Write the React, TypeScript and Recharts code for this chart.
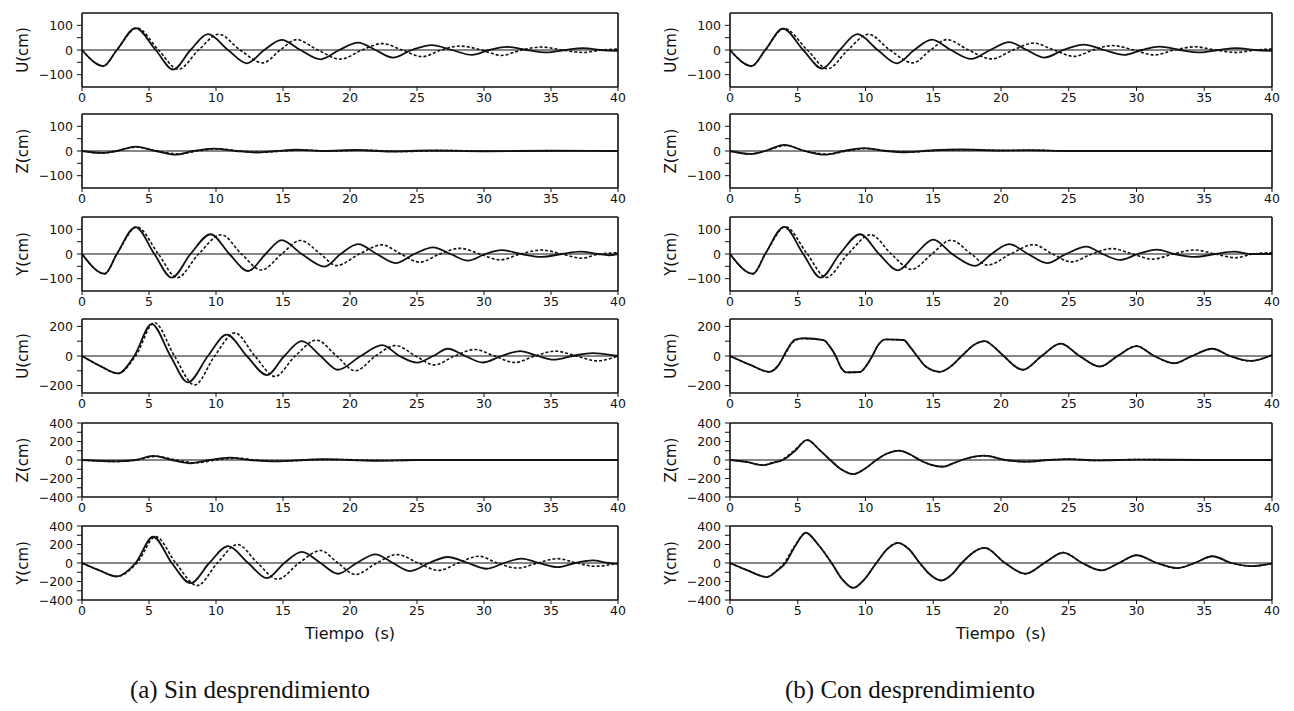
import React from 'react';
import { LineChart, Line, XAxis, YAxis, ReferenceLine } from 'recharts';

type Pt = [number, number];

// time axis (s)
const timeTicks = [0, 5, 10, 15, 20, 25, 30, 35, 40];
const ticks150 = [-100, -50, 0, 50, 100];
const ticks250 = [-200, -100, 0, 100, 200];
const ticks400 = [-400, -300, -200, -100, 0, 100, 200, 300, 400];

// (a) Sin desprendimiento -- [t, value], solid and dashed
const aU1Solid: Pt[] = [[0,0],[1.6,-65],[2.6,0],[4.0,89],[5.5,0],[6.8,-79],[8.1,0],[9.4,64],[10.9,0],[12.3,-54],[13.6,0],[14.9,41],[16.3,0],[17.8,-38],[19.2,0],[20.6,30],[21.9,0],[23.2,-31],[24.6,0],[26.1,20],[27.6,0],[29.1,-20],[30.4,0],[31.7,13],[33.2,0],[34.7,-10],[36.0,0],[37.4,8],[38.7,0],[40,-3]];
const aU1Dashed: Pt[] = [[0,0],[1.6,-65],[2.6,0],[4.1,89],[5.7,0],[7.2,-78],[8.7,0],[10.2,64],[11.8,0],[13.5,-52],[14.8,0],[16.0,42],[17.6,0],[19.3,-37],[20.9,0],[22.4,26],[23.9,0],[25.4,-27],[26.8,0],[28.2,16],[29.8,0],[31.3,-22],[32.8,0],[34.3,12],[35.8,0],[37.4,-10],[38.8,0],[40,4]];

const aZ2Solid: Pt[] = [[0,0],[1.5,-8],[2.6,0],[4.0,18],[5.5,0],[7.0,-15],[8.3,0],[9.8,10],[11.5,0],[13.0,-6],[14.5,0],[16,5],[18,0],[20.5,4],[23,-2],[26,2],[30,-1],[35,1],[40,0]];
const aZ2Dashed: Pt[] = [[0,0],[1.5,-8],[2.6,0],[4.1,16],[5.6,0],[7.2,-12],[8.6,0],[10.2,9],[11.8,0],[13.5,-5],[15,0],[16.5,4],[18.5,0],[21,3],[24,-2],[27,2],[31,-1],[36,1],[40,0]];

const aY3Solid: Pt[] = [[0,0],[1.7,-80],[2.6,0],[4.0,109],[5.4,0],[6.7,-96],[8.1,0],[9.6,80],[11.0,0],[12.4,-69],[13.7,0],[14.9,56],[16.4,0],[18.1,-51],[19.3,0],[20.6,40],[22.0,0],[23.4,-37],[24.8,0],[26.2,27],[27.5,0],[28.8,-27],[30.1,0],[31.3,16],[32.8,0],[34.3,-12],[35.8,0],[37.2,10],[38.5,0],[39.3,-5],[40,0]];
const aY3Dashed: Pt[] = [[0,0],[1.7,-80],[2.6,0],[4.1,109],[5.7,0],[7.1,-96],[8.7,0],[10.4,78],[11.9,0],[13.4,-65],[14.9,0],[16.3,55],[17.8,0],[19.0,-47],[20.7,0],[22.4,37],[23.8,0],[25.2,-33],[26.7,0],[28.2,23],[29.7,0],[31.2,-24],[32.7,0],[34.3,16],[35.8,0],[37.3,-17],[38.6,0],[40,5]];

const aU4Solid: Pt[] = [[0,0],[1.3,-65],[2.7,-118],[3.9,0],[5.2,216],[6.6,0],[7.9,-178],[9.4,0],[10.8,144],[12.3,0],[13.8,-129],[15.1,0],[16.4,100],[17.8,0],[19.1,-93],[20.8,0],[22.4,73],[23.7,0],[25.0,-45],[26.2,0],[27.3,49],[28.6,0],[29.9,-44],[31.3,0],[32.7,33],[34.0,0],[35.2,-25],[36.6,0],[38.1,20],[40,0]];
const aU4Dashed: Pt[] = [[0,0],[1.3,-65],[2.7,-118],[4.0,0],[5.4,225],[6.9,0],[8.4,-196],[9.9,0],[11.4,156],[12.9,0],[14.4,-138],[15.9,0],[17.5,107],[19.0,0],[20.4,-100],[21.9,0],[23.4,71],[24.9,0],[26.3,-60],[27.8,0],[29.3,44],[30.8,0],[32.3,-44],[33.8,0],[35.3,33],[36.9,0],[38.4,-33],[40,0]];

const aZ5Solid: Pt[] = [[0,0],[2.5,-15],[4.0,0],[5.3,45],[6.7,0],[8.1,-35],[9.5,0],[11.0,25],[12.5,0],[14.5,-15],[16.5,0],[18,8],[20,0],[22,-8],[25,0],[30,0],[40,0]];
const aZ5Dashed: Pt[] = [[0,0],[2.5,-15],[4.1,0],[5.5,40],[7.0,0],[8.5,-30],[10.0,0],[11.5,20],[13.0,0],[15.0,-12],[17.0,0],[19,6],[21,0],[23,-6],[26,0],[30,0],[40,0]];

const aY6Solid: Pt[] = [[0,0],[1.3,-80],[2.6,-145],[4.0,0],[5.3,284],[6.7,0],[8.1,-218],[9.5,0],[10.9,182],[12.4,0],[13.8,-164],[15.1,0],[16.4,120],[17.8,0],[19.1,-116],[20.5,0],[21.9,94],[23.2,0],[24.5,-87],[25.9,0],[27.3,65],[28.8,0],[30.2,-62],[31.5,0],[32.8,47],[34.1,0],[35.5,-44],[36.8,0],[38.1,29],[39.3,0],[40,-10]];
const aY6Dashed: Pt[] = [[0,0],[1.3,-80],[2.6,-145],[4.1,0],[5.5,285],[7.0,0],[8.6,-244],[10.1,0],[11.6,200],[13.1,0],[14.6,-175],[16.2,0],[17.8,135],[19.1,0],[20.4,-124],[22.0,0],[23.5,91],[25.1,0],[26.6,-80],[28.1,0],[29.6,73],[31.0,0],[32.5,-55],[34.0,0],[35.5,47],[36.9,0],[38.3,-36],[40,0]];

// (b) Con desprendimiento
const bU1Solid: Pt[] = [[0,0],[1.6,-65],[2.6,0],[3.9,87],[5.4,0],[6.8,-75],[8.1,0],[9.4,64],[10.9,0],[12.3,-54],[13.6,0],[14.9,42],[16.3,0],[17.8,-36],[19.2,0],[20.6,32],[21.9,0],[23.2,-31],[24.6,0],[26.1,22],[27.6,0],[29.1,-20],[30.4,0],[31.7,14],[33.2,0],[34.7,-10],[36.0,0],[37.4,8],[38.7,0],[40,-3]];
const bU1Dashed: Pt[] = [[0,0],[1.6,-65],[2.6,0],[4.0,87],[5.7,0],[7.2,-76],[8.7,0],[10.2,64],[11.8,0],[13.5,-52],[14.8,0],[16.0,42],[17.6,0],[19.3,-36],[20.9,0],[22.4,28],[23.9,0],[25.4,-26],[26.8,0],[28.2,18],[29.8,0],[31.3,-20],[32.8,0],[34.3,13],[35.8,0],[37.4,-10],[38.8,0],[40,4]];

const bZ2Solid: Pt[] = [[0,0],[1.5,-12],[2.6,0],[4.0,25],[5.5,0],[7.0,-15],[8.4,0],[9.9,12],[11.5,0],[13.0,-5],[15,3],[17,6],[20,2],[22,3],[25,0],[30,0],[40,0]];
const bZ2Dashed: Pt[] = [[0,0],[1.5,-12],[2.6,0],[4.1,22],[5.6,0],[7.2,-13],[8.6,0],[10.1,10],[11.7,0],[13.3,-4],[15.5,3],[17.5,5],[20,2],[22.5,3],[25,0],[30,0],[40,0]];

const bY3Solid: Pt[] = [[0,0],[1.7,-80],[2.6,0],[4.0,110],[5.4,0],[6.7,-96],[8.1,0],[9.6,80],[11.0,0],[12.4,-66],[13.7,0],[15.0,58],[16.4,0],[18.1,-48],[19.3,0],[20.6,40],[22.0,0],[23.4,-37],[24.8,0],[26.3,30],[27.5,0],[28.8,-24],[30.1,0],[31.5,18],[32.8,0],[34.3,-12],[35.8,0],[37.2,10],[38.5,0],[40,0]];
const bY3Dashed: Pt[] = [[0,0],[1.7,-80],[2.6,0],[4.1,110],[5.7,0],[7.1,-95],[8.7,0],[10.4,78],[11.9,0],[13.4,-62],[14.9,0],[16.3,56],[17.8,0],[19.0,-45],[20.7,0],[22.4,38],[23.8,0],[25.2,-32],[26.7,0],[28.2,22],[29.7,0],[31.2,-21],[32.7,0],[34.3,16],[35.8,0],[37.3,-15],[38.6,0],[40,5]];

const bU4Solid: Pt[] = [[0,0],[1.5,-60],[2.9,-107],[3.6,-60],[4.2,40],[4.8,110],[5.5,120],[6.9,108],[7.4,60],[7.8,0],[8.2,-80],[8.6,-111],[9.6,-108],[10.1,-60],[10.5,0],[10.9,70],[11.5,112],[12.8,108],[13.3,60],[13.8,0],[14.5,-75],[15.5,-107],[16.3,-70],[17.1,0],[18.0,75],[18.8,100],[19.5,60],[20.2,0],[21.6,-93],[23.0,0],[24.4,84],[25.8,0],[27.3,-71],[28.6,0],[30.0,67],[31.3,0],[32.8,-49],[34.1,0],[35.6,49],[36.9,0],[38.4,-33],[40,7]];
const bU4Dashed: Pt[] = [[0,0],[1.5,-60],[2.9,-107],[3.5,-70],[4.0,0],[4.6,90],[5.3,118],[6.9,108],[7.4,60],[7.8,0],[8.2,-80],[8.6,-111],[9.6,-108],[10.1,-60],[10.5,0],[10.9,70],[11.5,112],[12.8,108],[13.3,60],[13.8,0],[14.5,-75],[15.5,-107],[16.3,-70],[17.1,0],[18.0,75],[18.8,100],[19.5,60],[20.2,0],[21.6,-93],[23.0,0],[24.4,84],[25.8,0],[27.3,-71],[28.6,0],[30.0,67],[31.3,0],[32.8,-49],[34.1,0],[35.6,49],[36.9,0],[38.4,-33],[40,7]];

const bZ5Solid: Pt[] = [[0,0],[1.2,-20],[2.4,-55],[3.2,-30],[3.9,0],[4.8,100],[5.7,218],[6.6,110],[7.4,0],[8.2,-100],[9.1,-153],[10.0,-90],[10.8,0],[11.6,70],[12.5,102],[13.3,60],[14.0,0],[14.8,-50],[15.7,-73],[16.4,-40],[17.1,0],[18.8,47],[20.3,0],[21.8,-18],[23.5,0],[25,10],[27,-5],[30,5],[35,0],[40,0]];
const bZ5Dashed: Pt[] = [[0,0],[1.2,-20],[2.4,-55],[3.2,-25],[3.8,0],[4.8,110],[5.7,215],[6.6,110],[7.4,0],[8.2,-100],[9.1,-150],[10.0,-90],[10.8,0],[11.6,70],[12.5,100],[13.3,60],[14.0,0],[14.8,-50],[15.7,-72],[16.4,-40],[17.1,0],[18.8,45],[20.3,0],[21.8,-18],[23.5,0],[25,10],[27,-5],[30,5],[35,0],[40,0]];

const bY6Solid: Pt[] = [[0,0],[1.3,-80],[2.7,-153],[3.5,-80],[4.1,0],[4.8,180],[5.6,327],[6.5,200],[7.5,0],[8.3,-180],[9.1,-269],[9.9,-180],[10.8,0],[11.6,150],[12.4,218],[13.2,150],[14.0,0],[14.8,-130],[15.6,-189],[16.4,-120],[17.1,0],[18.8,164],[20.3,0],[21.8,-116],[23.2,0],[24.6,113],[26.0,0],[27.4,-80],[28.7,0],[30.0,84],[31.5,0],[33.0,-55],[34.3,0],[35.6,73],[37.0,0],[38.5,-33],[40,-5]];
const bY6Dashed: Pt[] = [[0,0],[1.3,-80],[2.7,-150],[3.4,-90],[4.0,0],[4.8,190],[5.6,325],[6.5,200],[7.5,0],[8.3,-180],[9.1,-269],[9.9,-180],[10.8,0],[11.6,150],[12.4,218],[13.2,150],[14.0,0],[14.8,-130],[15.6,-189],[16.4,-120],[17.1,0],[18.8,164],[20.3,0],[21.8,-116],[23.2,0],[24.6,113],[26.0,0],[27.4,-80],[28.7,0],[30.0,84],[31.5,0],[33.0,-55],[34.3,0],[35.6,73],[37.0,0],[38.5,-33],[40,-5]];

const INK = '#111';
const FONT = '"DejaVu Sans", sans-serif';
const SERIF = '"Liberation Serif", "Times New Roman", serif';
const PLOT_H = 74;
const Y_W = 56;
const TOP_M = 10;
const rowTops = [13, 114, 217, 319, 423, 526];
const colA = { left: 82, width: 536 };
const colB = { left: 730, width: 542 };

const toRows = (pts: Pt[]) => pts.map(([t, v]) => ({ t, v }));
const fmt = (v: number) => (v < 0 ? '\u2212' + Math.abs(v) : String(v));

const YTick = (props: any) => {
  const { x, y, payload, step } = props;
  if (payload.value % step !== 0) return <g />;
  return (
    <text x={x - 2} y={y} dy={4.5} textAnchor="end" fontSize={12.5} fontFamily={FONT} fill={INK}>
      {fmt(payload.value)}
    </text>
  );
};

type PanelProps = {
  col: { left: number; width: number };
  row: number;
  max: number;
  ticks: number[];
  step: number;
  label: string;
  solid: Pt[];
  dashed: Pt[];
};

const Panel = ({ col, row, max, ticks, step, label, solid, dashed }: PanelProps) => {
  const top = rowTops[row];
  return (
    <>
      <div style={{ position: 'absolute', left: col.left - Y_W, top: top - TOP_M }}>
        <LineChart width={col.width + Y_W + 14} height={PLOT_H + TOP_M + 22} margin={{ top: TOP_M, right: 14, bottom: 0, left: 0 }}>
          <XAxis
            dataKey="t"
            type="number"
            domain={[0, 40]}
            ticks={timeTicks}
            interval={0}
            allowDataOverflow
            height={22}
            tickSize={4}
            tick={{ fontSize: 12.5, fill: INK, fontFamily: FONT }}
            tickLine={{ stroke: INK }}
            axisLine={{ stroke: INK, strokeWidth: 1.6 }}
          />
          <YAxis
            type="number"
            domain={[-max, max]}
            ticks={ticks}
            interval={0}
            allowDataOverflow
            width={Y_W}
            tickSize={5}
            tick={(p: any) => <YTick {...p} step={step} />}
            tickLine={{ stroke: INK }}
            axisLine={{ stroke: INK, strokeWidth: 1.6 }}
          />
          <ReferenceLine y={0} stroke={INK} strokeWidth={1.1} />
          <ReferenceLine y={max} stroke={INK} strokeWidth={1.6} />
          <ReferenceLine x={40} stroke={INK} strokeWidth={1.6} />
          <Line data={toRows(dashed)} dataKey="v" type="monotone" stroke={INK} strokeWidth={1.6} strokeDasharray="3 2" dot={false} isAnimationActive={false} />
          <Line data={toRows(solid)} dataKey="v" type="monotone" stroke={INK} strokeWidth={1.8} dot={false} isAnimationActive={false} />
        </LineChart>
      </div>
      <div
        style={{
          position: 'absolute',
          left: col.left - 59,
          top: top + PLOT_H / 2,
          transform: 'translate(-50%, -50%) rotate(-90deg)',
          fontFamily: FONT,
          fontSize: 15,
          color: INK,
          whiteSpace: 'nowrap',
        }}
      >
        {label}
      </div>
    </>
  );
};

const App: React.FC = () => {
  return (
    <div style={{ position: 'absolute', left: 0, top: 0, width: 1294, height: 711, background: '#fff' }}>
      <Panel col={colA} row={0} max={150} ticks={ticks150} step={100} label="U(cm)" solid={aU1Solid} dashed={aU1Dashed} />
      <Panel col={colA} row={1} max={150} ticks={ticks150} step={100} label="Z(cm)" solid={aZ2Solid} dashed={aZ2Dashed} />
      <Panel col={colA} row={2} max={150} ticks={ticks150} step={100} label="Y(cm)" solid={aY3Solid} dashed={aY3Dashed} />
      <Panel col={colA} row={3} max={250} ticks={ticks250} step={200} label="U(cm)" solid={aU4Solid} dashed={aU4Dashed} />
      <Panel col={colA} row={4} max={400} ticks={ticks400} step={200} label="Z(cm)" solid={aZ5Solid} dashed={aZ5Dashed} />
      <Panel col={colA} row={5} max={400} ticks={ticks400} step={200} label="Y(cm)" solid={aY6Solid} dashed={aY6Dashed} />

      <Panel col={colB} row={0} max={150} ticks={ticks150} step={100} label="U(cm)" solid={bU1Solid} dashed={bU1Dashed} />
      <Panel col={colB} row={1} max={150} ticks={ticks150} step={100} label="Z(cm)" solid={bZ2Solid} dashed={bZ2Dashed} />
      <Panel col={colB} row={2} max={150} ticks={ticks150} step={100} label="Y(cm)" solid={bY3Solid} dashed={bY3Dashed} />
      <Panel col={colB} row={3} max={250} ticks={ticks250} step={200} label="U(cm)" solid={bU4Solid} dashed={bU4Dashed} />
      <Panel col={colB} row={4} max={400} ticks={ticks400} step={200} label="Z(cm)" solid={bZ5Solid} dashed={bZ5Dashed} />
      <Panel col={colB} row={5} max={400} ticks={ticks400} step={200} label="Y(cm)" solid={bY6Solid} dashed={bY6Dashed} />

      <div style={{ position: 'absolute', left: colA.left + colA.width / 2, top: 633, transform: 'translate(-50%, -50%)', fontFamily: FONT, fontSize: 16, whiteSpace: 'pre', color: INK }}>
        {'Tiempo  (s)'}
      </div>
      <div style={{ position: 'absolute', left: colB.left + colB.width / 2, top: 633, transform: 'translate(-50%, -50%)', fontFamily: FONT, fontSize: 16, whiteSpace: 'pre', color: INK }}>
        {'Tiempo  (s)'}
      </div>
      <div style={{ position: 'absolute', left: 250, top: 690, transform: 'translate(-50%, -50%)', fontFamily: SERIF, fontSize: 25, whiteSpace: 'nowrap', color: INK }}>
        (a) Sin desprendimiento
      </div>
      <div style={{ position: 'absolute', left: 910, top: 690, transform: 'translate(-50%, -50%)', fontFamily: SERIF, fontSize: 25, whiteSpace: 'nowrap', color: INK }}>
        (b) Con desprendimiento
      </div>
    </div>
  );
};

export default App;
